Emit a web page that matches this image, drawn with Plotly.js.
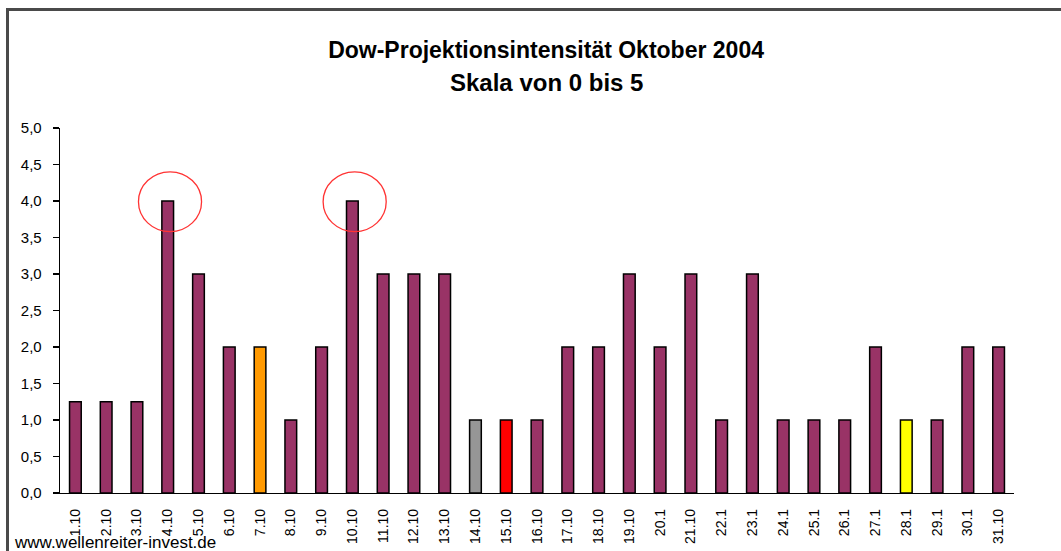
<!DOCTYPE html>
<html>
<head>
<meta charset="utf-8">
<script src="https://cdn.plot.ly/plotly-3.0.1.min.js"></script>
<style>
  html, body { margin: 0; padding: 0; background: #ffffff; }
  #wrap { position: relative; width: 1061px; height: 551px; overflow: hidden; }
  #chart { position: absolute; left: 0; top: 0; width: 1061px; height: 551px; }
  #frame { position: absolute; left: 6px; top: 8px; width: 1100px; height: 600px;
           border-left: 3px solid #4a4a4a; border-top: 3px solid #4a4a4a; pointer-events: none; }
</style>
</head>
<body>
<div id="wrap">
  <div id="chart"></div>
  <div id="frame"></div>
</div>
<script>
// ---- data ----
const days = ['1.10','2.10','3.10','4.10','5.10','6.10','7.10','8.10','9.10','10.10',
              '11.10','12.10','13.10','14.10','15.10','16.10','17.10','18.10','19.10','20.1',
              '21.10','22.1','23.1','24.1','25.1','26.1','27.1','28.1','29.1','30.1','31.10'];
const intensity = [1.25,1.25,1.25,4,3,2,2,1,2,4,
                   3,3,3,1,1,1,2,2,3,2,
                   3,1,3,1,1,1,2,1,1,2,2];
const specialDays = ['7.10','14.10','15.10','28.1'];
const specialColors = ['#FF9900','#969696','#FF0000','#FFFF00'];
const baseColor = '#993366';
const circledDays = ['4.10','10.10'];

const titleLine1 = 'Dow-Projektionsintensität Oktober 2004';
const titleLine2 = 'Skala von 0 bis 5';
const sourceText = 'www.wellenreiter-invest.de';

// ---- build ----
const colors = days.map(d => {
  const i = specialDays.indexOf(d);
  return i >= 0 ? specialColors[i] : baseColor;
});

const trace = {
  type: 'bar',
  x: days,
  y: intensity,
  marker: { color: colors, line: { color: '#000000', width: 1.5 } },
  hoverinfo: 'x+y'
};

const shapes = circledDays.map(d => {
  const idx = days.indexOf(d);
  const v = intensity[idx];
  return {
    type: 'circle', xref: 'x', yref: 'y',
    x0: idx - 0.95, x1: idx + 1.1,
    y0: v - 0.42, y1: v + 0.4,
    line: { color: '#FF3333', width: 1.3 },
    fillcolor: 'rgba(0,0,0,0)'
  };
});

const font = { family: 'Arial, "Liberation Sans", sans-serif', color: '#000000' };

const layout = {
  width: 1061, height: 551,
  margin: { l: 60, r: 47, t: 128, b: 58 },
  paper_bgcolor: '#ffffff',
  plot_bgcolor: '#ffffff',
  separators: ',.',
  showlegend: false,
  bargap: 0.62,
  font: font,
  title: {
    text: '<b>' + titleLine1 + '</b>',
    font: { family: font.family, size: 23, color: '#000000' },
    x: 0.5095, xref: 'paper', xanchor: 'center',
    y: 1 - 50 / 551, yref: 'container', yanchor: 'middle'
  },
  xaxis: {
    type: 'category',
    showline: true, linecolor: '#000000', linewidth: 1.3,
    ticks: '', showgrid: false, zeroline: false,
    tickangle: -90,
    tickfont: { family: font.family, size: 14, color: '#000000' },
    ticklabelstandoff: 9
  },
  yaxis: {
    range: [0, 5], dtick: 0.5, tickformat: '.1f',
    showline: true, linecolor: '#000000', linewidth: 1.3,
    ticks: 'outside', ticklen: 6, tickcolor: '#000000', tickwidth: 1.3,
    showgrid: false, zeroline: false,
    tickfont: { family: font.family, size: 15, color: '#000000' },
    ticklabelstandoff: 8
  },
  shapes: shapes,
  annotations: [
    {
      text: '<b>' + titleLine2 + '</b>',
      xref: 'paper', yref: 'paper', x: 0.5095, y: (493 - 82) / 365,
      xanchor: 'center', yanchor: 'middle', showarrow: false,
      font: { family: font.family, size: 24, color: '#000000' }
    },
    {
      text: sourceText,
      xref: 'paper', yref: 'paper', x: (12 - 60) / 954, y: (493 - 531) / 365,
      xanchor: 'left', yanchor: 'top', showarrow: false,
      font: { family: font.family, size: 17, color: '#000000' }
    }
  ]
};

Plotly.newPlot('chart', [trace], layout, { staticPlot: true, displayModeBar: false });
</script>
</body>
</html>
